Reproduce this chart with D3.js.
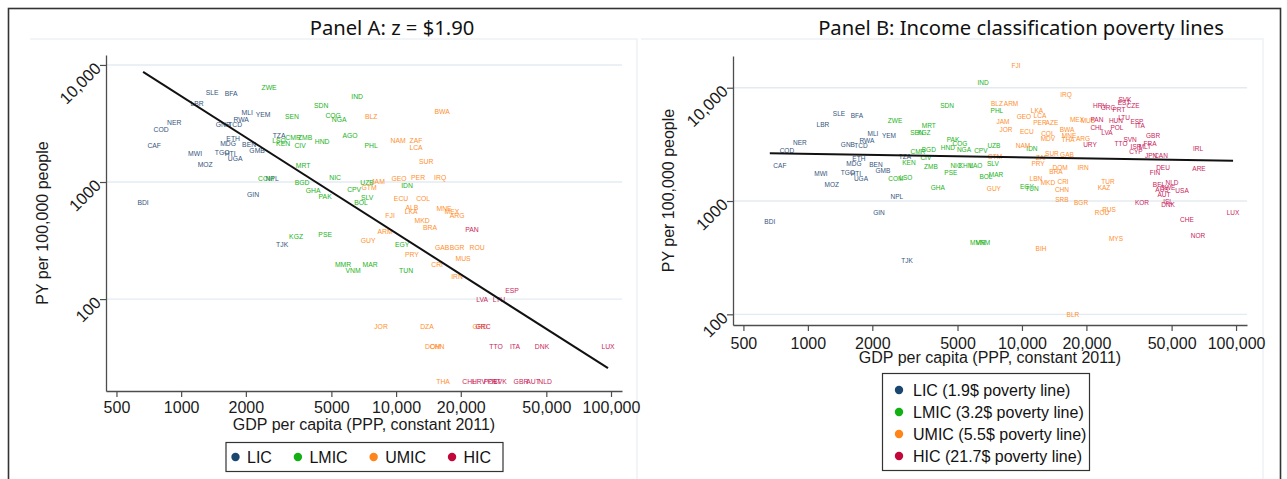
<!DOCTYPE html>
<html>
<head>
<meta charset="utf-8">
<script src="https://cdn.jsdelivr.net/npm/d3@7"></script>
<style>
  html, body { margin: 0; padding: 0; background: #fff; }
  svg { display: block; }
  text { font-family: "Liberation Sans", Arial, sans-serif; }
</style>
</head>
<body>
<svg id="chart" width="1287" height="479"></svg>
<script>
// ---------- Axis ticks (shared by both panels) ----------
const xTickValues = [500, 1000, 2000, 5000, 10000, 20000, 50000, 100000];
const xTickLabels = ["500", "1000", "2000", "5000", "10,000", "20,000", "50,000", "100,000"];
const yTickValues = [100, 1000, 10000];
const yTickLabels = ["100", "1000", "10,000"];

// ---------- Income groups ----------
const groupKeys = ["LIC", "LMIC", "UMIC", "HIC"];
const legendLabelsA = ["LIC", "LMIC", "UMIC", "HIC"];
const legendLabelsB = ["LIC (1.9$ poverty line)", "LMIC (3.2$ poverty line)", "UMIC (5.5$ poverty line)", "HIC (21.7$ poverty line)"];

// ---------- Panel A: z = $1.90 (GDP per capita, PY per 100,000) ----------
const A_LIC_codes = ["SLE","BFA","LBR","MLI","YEM","NER","RWA","GNB","TCD","COD","TZA","ETH","MDG","BEN","CAF","GMB","MWI","TGO","HTI","UGA","MOZ","NPL","GIN","BDI","TJK"];
const A_LIC_gdp   = [1393,1709,1187,2028,2404,928,1901,1567,1783,807,2855,1746,1654,2071,749,2256,1161,1552,1691,1783,1294,2649,2161,665,2951];
const A_LIC_py    = [5764,5650,4645,3890,3741,3193,3390,3070,3070,2782,2472,2333,2113,2072,2031,1842,1735,1771,1735,1574,1397,1061,774,662,295];

const A_LMIC_codes = ["ZWE","SEN","SDN","IND","COG","NGA","CMR","ZMB","LSO","KEN","CIV","HND","AGO","PHL","MRT","COM","BGD","GHA","PAK","NIC","UZB","CPV","SLV","BOL","IDN","KGZ","PSE","MMR","VNM","MAR","EGY","TUN"];
const A_LMIC_gdp   = [2565,3280,4481,6590,5097,5431,3317,3773,2855,2981,3575,4529,6109,7655,3690,2483,3655,4113,4677,5202,7328,6383,7328,6871,11246,3426,4677,5665,6310,7568,10666,11134];
const A_LMIC_py    = [6350,3594,4467,5325,3667,3390,2377,2377,2241,2113,2031,2198,2472,2031,1370,1061,980,838,745,1082,980,854,730,674,924,339,353,199,177,199,295,177];

const A_UMIC_codes = ["BLZ","BWA","NAM","ZAF","LCA","SUR","JAM","GTM","GEO","PER","IRQ","ECU","COL","ALB","LKA","FJI","MNE","MEX","ARG","MKD","BRA","ARM","GUY","GAB","BGR","ROU","PRY","MUS","CRI","IRN","JOR","DZA","GRD","DOM","CHN","THA"];
const A_UMIC_gdp   = [7655,16370,10212,12384,12384,13800,8241,7482,10325,12656,16030,10544,13366,11858,11749,9376,16720,18200,19220,13204,14390,8885,7413,16370,19220,23810,11858,20500,15520,19220,8511,13930,24600,14860,15520,16550];
const A_UMIC_py    = [3594,3966,2241,2241,1953,1483,1000,889,1061,1082,1082,716,716,600,554,512,588,554,512,473,412,374,319,278,278,278,238,220,199,157,58.8,58.8,58.8,39.6,39.6,19.9];

const A_HIC_codes = ["PAN","ESP","LVA","LTU","GRC","TTO","ITA","DNK","LUX","CHL","HRV","POL","PRT","SVK","GBR","AUT","NLD"];
const A_HIC_gdp   = [22550,34660,25120,30130,25400,29180,35760,47750,96830,21880,24320,27500,28600,30470,38110,43400,49320];
const A_HIC_py    = [396,119,100,100,58.8,39.6,39.6,39.6,39.6,19.9,19.9,19.9,19.9,19.9,19.9,19.9,19.9];

// fitted log-log line, panel A (end points)
const A_fit_gdp = [665, 96830];
const A_fit_py  = [8710, 25.7];

// ---------- Panel B: income classification poverty lines ----------
const B_LIC_codes = ["SLE","BFA","LBR","MLI","YEM","NER","RWA","GNB","TCD","COD","TZA","ETH","MDG","BEN","CAF","GMB","MWI","TGO","HTI","UGA","MOZ","NPL","GIN","BDI","TJK"];
const B_LIC_gdp   = [1397,1694,1175,2014,2393,918,1888,1538,1770,798,2841,1730,1641,2080,740,2241,1151,1538,1676,1770,1294,2606,2148,664,2904];
const B_LIC_py    = [5865,5625,4690,3900,3745,3250,3385,3120,3055,2760,2445,2350,2120,2080,2035,1840,1730,1765,1730,1565,1385,1085,784,653,295];

const B_LMIC_codes = ["IND","SDN","ZWE","MRT","SEN","KGZ","PAK","COG","HND","NGA","CPV","UZB","CMR","BGD","CIV","KEN","ZMB","PSE","NIC","KHM","LAO","SLV","BOL","MAR","COM","LSO","GHA","PHL","IDN","EGY","TUN","MMR","VNM"];
const B_LMIC_gdp   = [6577,4467,2553,3672,3228,3483,4764,5130,4510,5358,6427,7396,3266,3672,3557,2966,3758,4656,4920,5470,6095,7313,6792,7568,2577,2871,4048,7638,11134,10544,11134,6223,6577];
const B_LMIC_py    = [11000,6890,5080,4590,3985,3985,3455,3185,2935,2820,2760,3055,2705,2820,2395,2165,1995,1765,2035,2035,2035,2120,1630,1695,1565,1595,1305,6225,2875,1330,1275,426,426];

const B_UMIC_codes = ["FJI","IRQ","BLZ","ARM","JAM","JOR","GEO","LKA","LCA","PER","AZE","ECU","MEX","MUS","BWA","COL","MDV","MNE","THA","ARG","NAM","SUR","GAB","ZAF","GTM","PRY","DOM","BRA","IRN","LBN","MKD","CRI","TUR","KAZ","CHN","GUY","SRB","BGR","RUS","ROU","MYS","BIH","BLR"];
const B_UMIC_gdp   = [9376,16070,7638,8892,8147,8414,10212,11749,12134,12134,13804,10544,18070,20330,16230,13213,13213,16600,16410,19280,10116,13804,16230,12384,7482,11885,15070,14420,19280,11614,13213,15560,25220,24160,15380,7396,15380,18880,25500,23640,27480,12274,17300];
const B_UMIC_py    = [15550,8620,7175,7175,4980,4235,5510,6225,5625,4875,4875,4065,5190,5080,4235,3900,3525,3745,3455,3525,3055,2600,2545,2395,2445,2120,1955,1805,1955,1565,1440,1470,1470,1305,1250,1275,1020,960,834,784,462,377,100];

const B_HIC_codes = ["PAN","HRV","GRC","PRT","SVK","EST","CZE","HUN","LTU","ESP","ITA","CHL","POL","LVA","GBR","SVN","URY","TTO","ISR","MLT","FRA","CYP","JPN","CAN","IRL","DEU","ARE","FIN","BEL","NLD","SWE","AUS","USA","AUT","KOR","ISL","DNK","LUX","CHE","NOR"];
const B_HIC_gdp   = [22390,23130,25220,28380,30280,29990,33040,27480,29990,34450,35580,22390,27780,24960,40950,31990,20780,29020,34110,37550,39650,34110,40080,44630,66430,45600,67140,41830,43670,50220,48110,45110,55950,46090,36350,48110,48110,96830,59000,66430];
const B_HIC_py    = [5190,6890,6620,6360,7790,7325,6890,5080,5405,4980,4590,4405,4405,3985,3745,3455,3120,3185,2995,2995,3185,2705,2495,2495,2875,1955,1915,1765,1385,1440,1305,1250,1225,1130,960,980,920,784,680,491];

// fitted log-log line, panel B (end points)
const B_fit_gdp = [664, 96830];
const B_fit_py  = [2636, 2270];

// ---------- Styling ----------
const labelColor  = { LIC: "#34557e", LMIC: "#22b322", UMIC: "#ff8f2e", HIC: "#c9245a" };
const markerColor = { LIC: "#1a476f", LMIC: "#12b012", UMIC: "#ff8419", HIC: "#c2073a" };
const axisColor = "#4d4d4d";
const gridColor = "#e3ebf0";

const svg = d3.select("#chart");

// outer frame of the combined figure
svg.append("rect")
  .attr("x", 8.5).attr("y", 8.5).attr("width", 1272).attr("height", 490)
  .attr("fill", "none").attr("stroke", "#333").attr("stroke-width", 1.6);

// faint graph-region borders of each panel
function regionEdges(x0, x1, yTop) {
  svg.append("path")
    .attr("d", `M${x0},${yTop}H${x1}V479`)
    .attr("fill", "none").attr("stroke", "#edf2f5").attr("stroke-width", 1.5);
}
regionEdges(30, 637, 39);
regionEdges(641, 1263, 39);

function buildSeries(prefix) {
  const src = {
    A: { LIC: [A_LIC_codes, A_LIC_gdp, A_LIC_py], LMIC: [A_LMIC_codes, A_LMIC_gdp, A_LMIC_py],
         UMIC: [A_UMIC_codes, A_UMIC_gdp, A_UMIC_py], HIC: [A_HIC_codes, A_HIC_gdp, A_HIC_py] },
    B: { LIC: [B_LIC_codes, B_LIC_gdp, B_LIC_py], LMIC: [B_LMIC_codes, B_LMIC_gdp, B_LMIC_py],
         UMIC: [B_UMIC_codes, B_UMIC_gdp, B_UMIC_py], HIC: [B_HIC_codes, B_HIC_gdp, B_HIC_py] }
  }[prefix];
  const rows = [];
  groupKeys.forEach(g => {
    const [codes, gdp, py] = src[g];
    codes.forEach((c, i) => rows.push({ code: c, group: g, gdp: gdp[i], py: py[i] }));
  });
  return rows;
}

function drawPanel(cfg) {
  const g = svg.append("g");
  const x = d3.scaleLog().domain(cfg.xDomain).range([cfg.left, cfg.right]);
  const y = d3.scaleLog().domain(cfg.yDomain).range([cfg.bottom, cfg.top]);

  // title
  g.append("text")
    .attr("x", cfg.titleX).attr("y", 35)
    .attr("text-anchor", "middle")
    .style("font-family", "'Noto Sans', 'Open Sans', sans-serif")
    .style("font-size", "20.2px").attr("fill", "#111")
    .text(cfg.title);

  // horizontal grid lines
  g.selectAll("line.grid").data(yTickValues).join("line")
    .attr("class", "grid")
    .attr("x1", cfg.left).attr("x2", cfg.right)
    .attr("y1", d => y(d)).attr("y2", d => y(d))
    .attr("stroke", gridColor).attr("stroke-width", 1.4);

  // x axis
  const xAxis = g.append("g").attr("transform", `translate(0,${cfg.bottom})`)
    .call(d3.axisBottom(x).tickValues(xTickValues)
      .tickFormat((d, i) => xTickLabels[i]).tickSize(6).tickSizeOuter(0).tickPadding(cfg.xPad));
  xAxis.select(".domain").attr("stroke", axisColor).attr("stroke-width", 1.3);
  xAxis.selectAll(".tick line").attr("stroke", axisColor).attr("stroke-width", 1.2);
  xAxis.selectAll(".tick text").attr("fill", "#1a1a1a")
    .style("font-size", "16px").style("font-family", "'Liberation Sans', Arial, sans-serif");

  // y axis with slanted labels
  const yAxis = g.append("g").attr("transform", `translate(${cfg.left},0)`)
    .call(d3.axisLeft(y).tickValues(yTickValues)
      .tickFormat((d, i) => yTickLabels[i]).tickSize(6).tickSizeOuter(0));
  yAxis.select(".domain").attr("stroke", axisColor).attr("stroke-width", 1.3);
  yAxis.selectAll(".tick line").attr("stroke", axisColor).attr("stroke-width", 1.2);
  yAxis.selectAll(".tick text")
    .attr("x", 0).attr("dy", "0.35em")
    .attr("transform", "translate(-8,0) rotate(-45)")
    .attr("text-anchor", "end")
    .attr("fill", "#1a1a1a")
    .style("font-size", "16.5px").style("font-family", "'Liberation Sans', Arial, sans-serif");

  // axis titles
  g.append("text")
    .attr("x", (cfg.left + cfg.right) / 2).attr("y", cfg.xTitleY)
    .attr("text-anchor", "middle").attr("fill", "#1a1a1a")
    .style("font-size", "16px")
    .text("GDP per capita (PPP, constant 2011)");
  g.append("text")
    .attr("transform", `translate(${cfg.yTitleX},${(cfg.top + cfg.bottom) / 2}) rotate(-90)`)
    .attr("text-anchor", "middle").attr("dy", "0.35em").attr("fill", "#1a1a1a")
    .style("font-size", "16px")
    .text("PY per 100,000 people");

  // country marker labels
  g.selectAll("text.country").data(cfg.rows).join("text")
    .attr("class", "country")
    .attr("x", d => x(d.gdp)).attr("y", d => y(d.py))
    .attr("text-anchor", "middle").attr("dy", "0.36em")
    .attr("fill", d => labelColor[d.group])
    .style("font-size", cfg.labelSize + "px")
    .text(d => d.code);

  // fitted line
  const fitPts = cfg.fitGdp.map((v, i) => [x(v), y(cfg.fitPy[i])]);
  g.append("path")
    .attr("d", d3.line()(fitPts))
    .attr("fill", "none").attr("stroke", "#111").attr("stroke-width", 2);

  return { x, y };
}

drawPanel({
  title: "Panel A: z = $1.90", titleX: 392,
  left: 106, right: 622, top: 55, bottom: 391,
  xDomain: [447, 112500], yDomain: [16.4, 12160],
  xPad: 5, xTitleY: 430, yTitleX: 42, labelSize: 6.8,
  rows: buildSeries("A"), fitGdp: A_fit_gdp, fitPy: A_fit_py
});

drawPanel({
  title: "Panel B: Income classification poverty lines", titleX: 1021,
  left: 733, right: 1247, top: 56, bottom: 325,
  xDomain: [447, 112500], yDomain: [80.5, 19050],
  xPad: 7, xTitleY: 363, yTitleX: 668, labelSize: 6.5,
  rows: buildSeries("B"), fitGdp: B_fit_gdp, fitPy: B_fit_py
});

// ---------- Legend, panel A (one row) ----------
(function () {
  const lg = svg.append("g");
  lg.append("rect")
    .attr("x", 226).attr("y", 442.5).attr("width", 277).attr("height", 29)
    .attr("fill", "#fff").attr("stroke", "#333").attr("stroke-width", 1.2);
  let cx = 235.5;
  groupKeys.forEach((k, i) => {
    lg.append("circle").attr("cx", cx).attr("cy", 457).attr("r", 4.2).attr("fill", markerColor[k]);
    const t = lg.append("text").attr("x", cx + 11.5).attr("y", 457).attr("dy", "0.35em")
      .attr("fill", "#111").style("font-size", "16px").text(legendLabelsA[i]);
    cx = cx + 11.5 + t.node().getComputedTextLength() + 26;
  });
})();

// ---------- Legend, panel B (one column) ----------
(function () {
  const lg = svg.append("g");
  lg.append("rect")
    .attr("x", 882.5).attr("y", 373.5).attr("width", 207).attr("height", 97)
    .attr("fill", "#fff").attr("stroke", "#333").attr("stroke-width", 1.2);
  const rowY = d3.scalePoint().domain(groupKeys).range([390, 456]);
  groupKeys.forEach((k, i) => {
    lg.append("circle").attr("cx", 899).attr("cy", rowY(k)).attr("r", 4.2).attr("fill", markerColor[k]);
    lg.append("text").attr("x", 913).attr("y", rowY(k)).attr("dy", "0.35em")
      .attr("fill", "#111").style("font-size", "16px").text(legendLabelsB[i]);
  });
})();
</script>
</body>
</html>
